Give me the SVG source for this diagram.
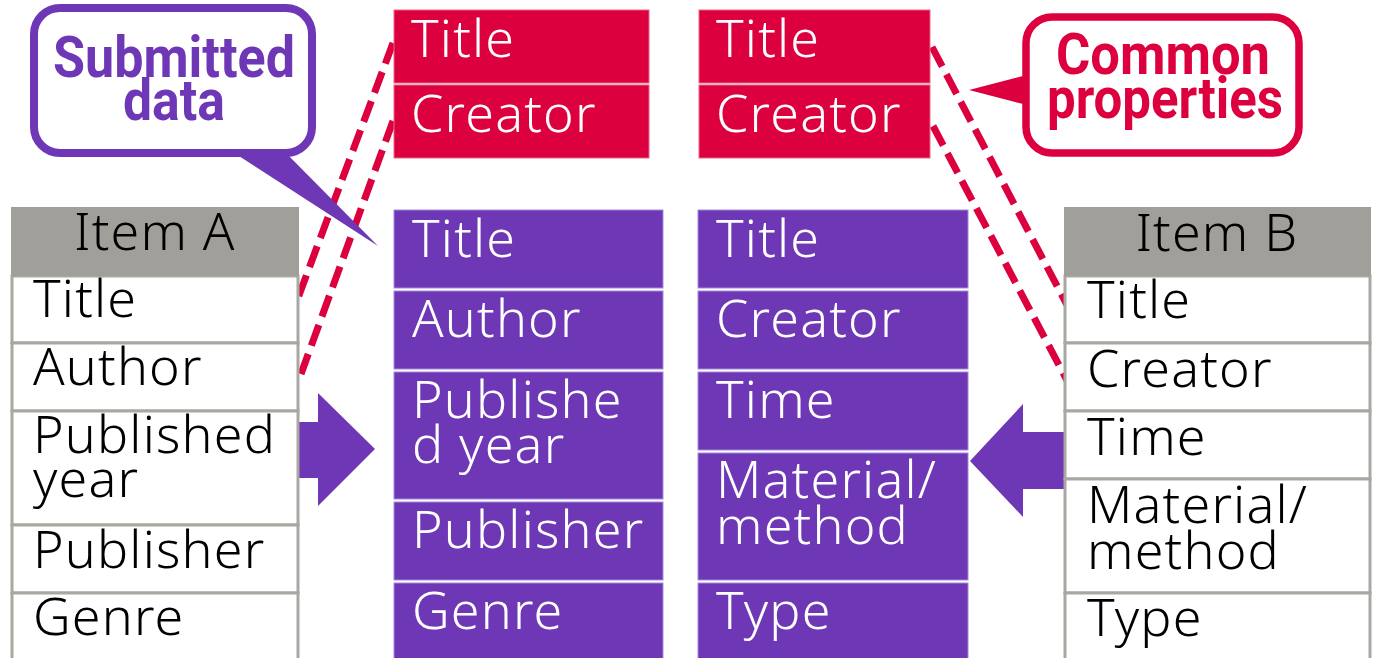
<svg xmlns="http://www.w3.org/2000/svg" width="1383" height="658" viewBox="0 0 1383 658">
<style>
.t{font-family:"Noto Sans","DejaVu Sans",sans-serif;font-size:52px;font-weight:300;letter-spacing:1.2px;}
.w{fill:#ffffff;}
.k{fill:#000000;}
.red{fill:#dc003e;stroke:#e8668a;stroke-width:1;}
.pur{fill:#6e37b5;stroke:#a58ad8;stroke-width:1;}
.hdr{fill:#a19f99;}
.cell{fill:#ffffff;stroke:#a8a7a2;stroke-width:3;}
.dash{fill:none;stroke:#dc003e;stroke-width:7;stroke-dasharray:22 9;}
.call{font-family:Roboto,"Noto Sans",sans-serif;font-weight:bold;font-size:57px;}
</style>
<g id="connectors">
<line class="dash" x1="393" y1="43" x2="295" y2="306"/>
<line class="dash" x1="393" y1="121" x2="301" y2="374"/>
<line class="dash" x1="932" y1="47" x2="1068" y2="307"/>
<line class="dash" x1="933" y1="126" x2="1070" y2="386"/>
<polygon id="arrowRight" fill="#6e37b5" points="298,422 318,422 318,393 375,449 318,506 318,478 298,478"/>
<polygon id="arrowLeft" fill="#6e37b5" points="1064,432 1023,432 1023,404 970,461 1023,517 1023,489 1064,489"/>
</g>
<g id="itemA">
<rect class="cell" x="12" y="276" width="286" height="67"/>
<rect class="cell" x="12" y="343" width="286" height="68"/>
<rect class="cell" x="12" y="411" width="286" height="114"/>
<rect class="cell" x="12" y="525" width="286" height="68"/>
<rect class="cell" x="12" y="593" width="286" height="80"/>
<rect class="hdr" x="11" y="207" width="288" height="69"/>
<text class="t k" x="155" y="250" text-anchor="middle">Item A</text>
<text class="t k" x="33" y="317">Title</text>
<text class="t k" x="33" y="385">Author</text>
<text class="t k" x="33" y="453">Published</text>
<text class="t k" x="33" y="497">year</text>
<text class="t k" x="33" y="568">Publisher</text>
<text class="t k" x="33" y="635">Genre</text>
</g>
<g id="itemB">
<rect class="cell" x="1065" y="276" width="305" height="67"/>
<rect class="cell" x="1065" y="343" width="305" height="68"/>
<rect class="cell" x="1065" y="411" width="305" height="68"/>
<rect class="cell" x="1065" y="479" width="305" height="114"/>
<rect class="cell" x="1065" y="593" width="305" height="80"/>
<rect class="hdr" x="1064" y="207" width="307" height="69"/>
<text class="t k" x="1217" y="251" text-anchor="middle">Item B</text>
<text class="t k" x="1087" y="318">Title</text>
<text class="t k" x="1087" y="387">Creator</text>
<text class="t k" x="1087" y="455">Time</text>
<text class="t k" x="1087" y="523">Material/</text>
<text class="t k" x="1087" y="569">method</text>
<text class="t k" x="1087" y="636">Type</text>
</g>
<g id="commonLeft">
<rect class="red" x="394" y="10" width="255" height="73"/>
<rect class="red" x="394" y="85" width="255" height="73"/>
<text class="t w" x="411" y="57">Title</text>
<text class="t w" x="411" y="132">Creator</text>
</g>
<g id="commonRight">
<rect class="red" x="699" y="10" width="231" height="73"/>
<rect class="red" x="699" y="85" width="231" height="73"/>
<text class="t w" x="716" y="57">Title</text>
<text class="t w" x="716" y="132">Creator</text>
</g>
<g id="submittedA">
<rect class="pur" x="394" y="210" width="269" height="78"/>
<rect class="pur" x="394" y="291" width="269" height="78"/>
<rect class="pur" x="394" y="372" width="269" height="127"/>
<rect class="pur" x="394" y="502" width="269" height="78"/>
<rect class="pur" x="394" y="583" width="269" height="80"/>
<text class="t w" x="412" y="257">Title</text>
<text class="t w" x="412" y="337">Author</text>
<text class="t w" x="412" y="418">Publishe</text>
<text class="t w" x="412" y="463">d year</text>
<text class="t w" x="412" y="548">Publisher</text>
<text class="t w" x="412" y="629">Genre</text>
</g>
<g id="submittedB">
<rect class="pur" x="698" y="210" width="270" height="78"/>
<rect class="pur" x="698" y="291" width="270" height="78"/>
<rect class="pur" x="698" y="372" width="270" height="78"/>
<rect class="pur" x="698" y="453" width="270" height="127"/>
<rect class="pur" x="698" y="583" width="270" height="80"/>
<text class="t w" x="716" y="257">Title</text>
<text class="t w" x="716" y="337">Creator</text>
<text class="t w" x="716" y="418">Time</text>
<text class="t w" x="716" y="498">Material/</text>
<text class="t w" x="716" y="544">method</text>
<text class="t w" x="716" y="629">Type</text>
</g>
<g id="calloutSubmitted">
<rect x="34" y="8" width="278" height="145" rx="26" fill="#ffffff" stroke="#6e37b5" stroke-width="8"/>
<polygon fill="#6e37b5" points="228,149 282,149 378,246"/>
<text class="call" x="53" y="77" fill="#6e37b5" textLength="242" lengthAdjust="spacingAndGlyphs">Submitted</text>
<text class="call" x="123" y="120" fill="#6e37b5" textLength="102" lengthAdjust="spacingAndGlyphs">data</text>
</g>
<g id="calloutCommon">
<polygon fill="#dc003e" points="1027,75 1027,105 969,90"/>
<rect x="1026" y="17" width="273" height="136" rx="26" fill="#ffffff" stroke="#dc003e" stroke-width="7.5"/>
<text class="call" x="1056" y="74" fill="#dc003e" textLength="214" lengthAdjust="spacingAndGlyphs">Common</text>
<text class="call" x="1047" y="118" fill="#dc003e" textLength="236" lengthAdjust="spacingAndGlyphs">properties</text>
</g>
</svg>
